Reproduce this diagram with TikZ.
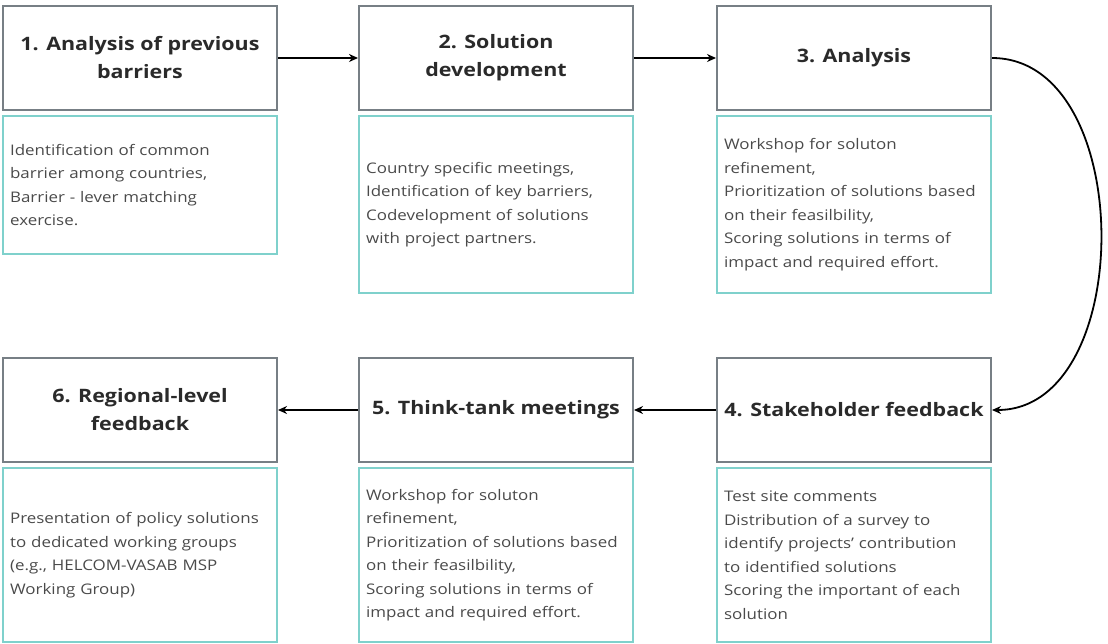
\documentclass[tikz,border=0pt]{standalone}
\usepackage{fontspec}
\setmainfont{Open Sans}[FakeStretch=1.16]
\usepackage{xcolor}
\usetikzlibrary{arrows.meta}
\definecolor{framegray}{HTML}{777F85}
\definecolor{frameteal}{HTML}{7FD1CC}
\definecolor{textgray}{HTML}{4A4A4A}
\definecolor{titlegray}{HTML}{2A2A2A}

\begin{document}
\begin{tikzpicture}[x=1pt,y=-1pt,
    titlebox/.style={draw=framegray, line width=2pt, minimum width=274pt, minimum height=104pt,
      anchor=north west, align=center, inner sep=0pt, text=titlegray,
      font=\bfseries\fontsize{18.5}{28}\selectfont},
    descbox/.style={draw=frameteal, line width=2.2pt, minimum width=274pt, anchor=north west,
      text width=260pt, align=left, inner sep=0pt, text=textgray,
      font=\fontsize{14.6}{23.5}\selectfont},
    link/.style={-{Stealth[length=9pt,width=8pt]}, line width=1.8pt}]
  \useasboundingbox (0,0) rectangle (1108,643);

  % top row
  \node[titlebox] (t1) at (2,5) {1. Analysis of previous\\barriers};
  \node[descbox, minimum height=138pt] (d1) at (2,115)
    {Identification of common\\barrier among countries,\\Barrier - lever matching\\exercise.};

  \node[titlebox] (t2) at (358,5) {2. Solution\\development};
  \node[descbox, minimum height=177pt] (d2) at (358,115)
    {Country specific meetings,\\Identification of key barriers,\\Codevelopment of solutions\\with project partners.};

  \node[titlebox] (t3) at (716,5) {3. Analysis};
  \node[descbox, minimum height=177pt] (d3) at (716,115)
    {Workshop for soluton\\refinement,\\Prioritization of solutions based\\on their feasilbility,\\Scoring solutions in terms of\\impact and required effort.};

  % bottom row
  \node[titlebox] (t4) at (716,357) {4. Stakeholder feedback};
  \node[descbox, minimum height=174pt] (d4) at (716,467)
    {Test site comments\\Distribution of a survey to\\identify projects' contribution\\to identified solutions\\Scoring the important of each\\solution};

  \node[titlebox] (t5) at (358,357) {5. Think-tank meetings};
  \node[descbox, minimum height=174pt] (d5) at (358,467)
    {Workshop for soluton\\refinement,\\Prioritization of solutions based\\on their feasilbility,\\Scoring solutions in terms of\\impact and required effort.};

  \node[titlebox] (t6) at (2,357) {6. Regional-level\\feedback};
  \node[descbox, minimum height=174pt] (d6) at (2,467)
    {Presentation of policy solutions\\to dedicated working groups\\(e.g., HELCOM-VASAB MSP\\Working Group)};

  \draw[link] (t1) -- (t2);
  \draw[link] (t2) -- (t3);
  \draw[link] (t3.east) .. controls +(145,0) and +(145,0) .. (t4.east);
  \draw[link] (t4) -- (t5);
  \draw[link] (t5) -- (t6);
\end{tikzpicture}
\end{document}
